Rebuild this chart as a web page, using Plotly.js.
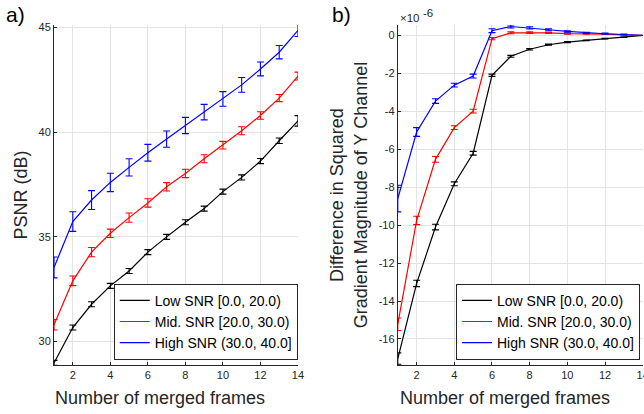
<!DOCTYPE html>
<html>
<head>
<meta charset="utf-8">
<script src="https://cdn.plot.ly/plotly-3.0.1.min.js"></script>
<style>
html,body{margin:0;padding:0;background:#fff;}
#chart{width:644px;height:414px;}
</style>
</head>
<body>
<div id="chart"></div>
<script>
// ---- data ----
const frames = [1,2,3,4,5,6,7,8,9,10,11,12,13,14];
const seriesNames = ["Low SNR [0.0, 20.0)", "Mid. SNR [20.0, 30.0)", "High SNR (30.0, 40.0]"];

// panel a) PSNR (dB)
const psnrLow     = [28.98, 30.67, 31.78, 32.66, 33.37, 34.27, 35.00, 35.70, 36.35, 37.16, 37.84, 38.62, 39.59, 40.54];
const psnrLowErr  = [0.12, 0.12, 0.12, 0.12, 0.12, 0.12, 0.12, 0.12, 0.12, 0.12, 0.12, 0.12, 0.13, 0.25];
const psnrMid     = [30.80, 32.90, 34.27, 35.17, 35.92, 36.62, 37.39, 38.03, 38.73, 39.38, 40.07, 40.80, 41.63, 42.68];
const psnrMidErr  = [0.25, 0.23, 0.22, 0.20, 0.22, 0.20, 0.20, 0.20, 0.19, 0.18, 0.19, 0.18, 0.17, 0.19];
const psnrHigh    = [33.54, 35.73, 36.76, 37.60, 38.32, 39.02, 39.67, 40.32, 40.96, 41.59, 42.26, 43.02, 43.82, 44.86];
const psnrHighErr = [0.50, 0.47, 0.45, 0.44, 0.41, 0.40, 0.39, 0.39, 0.37, 0.35, 0.35, 0.33, 0.32, 0.29];

// panel b) difference in squared gradient magnitude (values in units of 1e-6)
const gradLow     = [-17.03, -13.07, -10.10, -7.82, -6.21, -2.10, -1.10, -0.73, -0.49, -0.35, -0.26, -0.17, -0.09, 0];
const gradLowErr  = [0.30, 0.17, 0.15, 0.10, 0.10, 0.06, 0.05, 0.04, 0.03, 0.03, 0.02, 0.02, 0.01, 0];
const gradMid     = [-15.22, -9.75, -6.53, -4.86, -3.99, -0.17, 0.14, 0.15, 0.14, 0.10, 0.09, 0.07, 0.03, 0];
const gradMidErr  = [0.33, 0.22, 0.15, 0.10, 0.10, 0.06, 0.05, 0.04, 0.03, 0.03, 0.02, 0.02, 0.01, 0];
const gradHigh    = [-8.60, -5.09, -3.46, -2.62, -2.14, 0.25, 0.47, 0.40, 0.30, 0.21, 0.14, 0.09, 0.05, 0];
const gradHighErr = [0.70, 0.23, 0.12, 0.10, 0.10, 0.10, 0.08, 0.06, 0.05, 0.04, 0.03, 0.03, 0.02, 0];

const xTickVals = [2,4,6,8,10,12,14];
const psnrTickVals = [30,35,40,45];
const gradTickVals = [-16,-14,-12,-10,-8,-6,-4,-2,0];
const gradTickText = ["-16","-14","-12","-10","-8","-6","-4","-2","0"];
const xTitle = "Number of merged frames";

// ---- styling ----
const colors = ["#000000", "#ff0000", "#0000ff"];
const axisCol = "#262626";
const gridCol = "#e3e3e3";
const fontFam = "Liberation Sans, Arial, Helvetica, sans-serif";

function tr(y, err, i, xa, ya, leg) {
  return {
    x: frames, y: y, type: "scatter", mode: "lines",
    name: seriesNames[i], xaxis: xa, yaxis: ya, legend: leg,
    line: {color: colors[i], width: 1.2},
    error_y: {type: "data", array: err, visible: true, color: colors[i], thickness: 1.1, width: 3.5}
  };
}

const data = [
  tr(psnrLow, psnrLowErr, 0, "x", "y", "legend"),
  tr(psnrMid, psnrMidErr, 1, "x", "y", "legend"),
  tr(psnrHigh, psnrHighErr, 2, "x", "y", "legend"),
  tr(gradLow, gradLowErr, 0, "x2", "y2", "legend2"),
  tr(gradMid, gradMidErr, 1, "x2", "y2", "legend2"),
  tr(gradHigh, gradHighErr, 2, "x2", "y2", "legend2")
];

function xaxisDef(dom, anchor) {
  return {
    domain: dom, anchor: anchor, range: [1, 14],
    tickmode: "array", tickvals: xTickVals,
    ticks: "inside", ticklen: 3, tickcolor: axisCol,
    showline: true, linecolor: axisCol, linewidth: 1,
    showgrid: true, gridcolor: gridCol, gridwidth: 1, zeroline: false,
    tickfont: {size: 11, color: axisCol, family: fontFam},
    ticklabeloverflow: "allow",
    automargin: false
  };
}

const legendStyle = {
  bgcolor: "#ffffff", bordercolor: axisCol, borderwidth: 1,
  font: {size: 14, color: "#000000", family: fontFam},
  xanchor: "center", yanchor: "bottom", tracegroupgap: 0, itemwidth: 30
};

const layout = {
  width: 644, height: 414,
  margin: {l: 0, r: 0, t: 0, b: 0, autoexpand: false},
  paper_bgcolor: "#ffffff", plot_bgcolor: "#ffffff",
  font: {family: fontFam, color: axisCol},
  xaxis: xaxisDef([0.0839, 0.4627], "y"),
  xaxis2: xaxisDef([0.6177, 0.998], "y2"),
  yaxis: {
    domain: [0.1184, 0.9396], anchor: "x", range: [28.88, 45.12],
    tickmode: "array", tickvals: psnrTickVals,
    ticks: "inside", ticklen: 3, tickcolor: axisCol,
    showline: true, linecolor: axisCol, linewidth: 1,
    showgrid: true, gridcolor: gridCol, zeroline: false,
    tickfont: {size: 11, color: axisCol, family: fontFam},
    title: {text: "PSNR (dB)", font: {size: 18, color: axisCol, family: fontFam}, standoff: 6},
    automargin: false
  },
  yaxis2: {
    domain: [0.1184, 0.9396], anchor: "x2", range: [-17.37, 0.55],
    tickmode: "array", tickvals: gradTickVals, ticktext: gradTickText,
    ticks: "inside", ticklen: 3, tickcolor: axisCol,
    showline: true, linecolor: axisCol, linewidth: 1,
    showgrid: true, gridcolor: gridCol, zeroline: false,
    tickfont: {size: 11, color: axisCol, family: fontFam},
    title: {text: "Difference in Squared<br>Gradient Magnitude of Y Channel", font: {size: 18, color: axisCol, family: fontFam}, standoff: 6},
    automargin: false
  },
  legend: Object.assign({x: 0.3195, y: 0.1312}, legendStyle),
  legend2: Object.assign({x: 0.8509, y: 0.1312}, legendStyle),
  showlegend: true,
  annotations: [
    {text: xTitle, xref: "paper", yref: "paper", x: 0.2492, y: 0.0386, xanchor: "center", yanchor: "middle",
     showarrow: false, font: {size: 18, color: axisCol, family: fontFam}},
    {text: xTitle, xref: "paper", yref: "paper", x: 0.7834, y: 0.0386, xanchor: "center", yanchor: "middle",
     showarrow: false, font: {size: 18, color: axisCol, family: fontFam}},
    {text: "a)", xref: "paper", yref: "paper", x: 0.0, y: 1.0, xanchor: "left", yanchor: "top",
     showarrow: false, font: {size: 21, color: "#000000", family: fontFam}, xshift: 4, yshift: -1},
    {text: "b)", xref: "paper", yref: "paper", x: 0.5124, y: 1.0, xanchor: "left", yanchor: "top",
     showarrow: false, font: {size: 21, color: "#000000", family: fontFam}, yshift: -1},
    {text: "×10", xref: "paper", yref: "paper", x: 0.6177, y: 0.9396, xanchor: "left", yanchor: "bottom",
     showarrow: false, font: {size: 11.5, color: axisCol, family: fontFam}, yshift: -1},
    {text: "-6", xref: "paper", yref: "paper", x: 0.6535, y: 0.9396, xanchor: "left", yanchor: "bottom",
     showarrow: false, font: {size: 11.5, color: axisCol, family: fontFam}, yshift: 4}
  ]
};

Plotly.newPlot("chart", data, layout, {displayModeBar: false, staticPlot: true});
</script>
</body>
</html>
